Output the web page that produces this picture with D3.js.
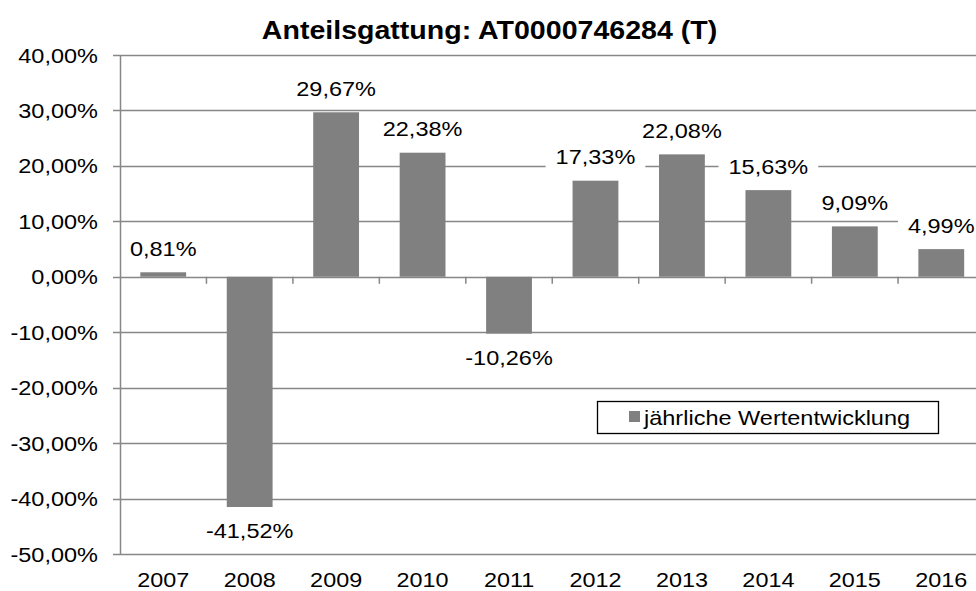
<!DOCTYPE html>
<html>
<head>
<meta charset="utf-8">
<script src="https://cdn.jsdelivr.net/npm/d3@7"></script>
<style>
  html, body { margin: 0; padding: 0; background: #fff; }
  svg { display: block; }
  text { font-family: "Liberation Sans", Arial, sans-serif; fill: #000; }
</style>
</head>
<body>
<svg id="chart" width="976" height="591"></svg>
<script>
const title = "Anteilsgattung: AT0000746284 (T)";
const years = ["2007","2008","2009","2010","2011","2012","2013","2014","2015","2016"];
const values = [0.81, -41.52, 29.67, 22.38, -10.26, 17.33, 22.08, 15.63, 9.09, 4.99];
const yTicks = [40, 30, 20, 10, 0, -10, -20, -30, -40, -50];
const seriesName = "jährliche Wertentwicklung";

const fmt = v => v.toFixed(2).replace(".", ",") + "%";
const W = 976, H = 591;
const SX = 1.12;      // horizontal text stretch seen in the reference
const FS = 21;
const gridColor = "#878787";
const barColor = "#808080";

const svg = d3.select("#chart");

const x = d3.scaleBand().domain(years).range([120, 984.5]).paddingInner(0.47).paddingOuter(0.235);
const y = d3.scaleLinear().domain([-50, 40]).range([554, 55]);

function addText(g, tx, ty, str, anchor, size, weight, sx) {
  const t = g.append("g").attr("transform", `translate(${tx},${ty}) scale(${sx || SX},1)`)
    .append("text")
    .attr("text-anchor", anchor)
    .attr("font-size", size)
    .attr("font-weight", weight || "normal")
    .text(str);
  return t;
}

// gridlines
svg.append("g").selectAll("line").data(yTicks).join("line")
  .attr("x1", 120).attr("x2", W)
  .attr("y1", d => Math.round(y(d)) + 0.5).attr("y2", d => Math.round(y(d)) + 0.5)
  .attr("stroke", gridColor).attr("stroke-width", 1.5);

// y tick marks
svg.append("g").selectAll("line").data(yTicks).join("line")
  .attr("x1", 113).attr("x2", 120)
  .attr("y1", d => Math.round(y(d)) + 0.5).attr("y2", d => Math.round(y(d)) + 0.5)
  .attr("stroke", gridColor).attr("stroke-width", 1.5);

// category ticks on zero line
const step = x.step();
svg.append("g").selectAll("line").data(d3.range(1, years.length + 1)).join("line")
  .attr("x1", i => 120 + i * step).attr("x2", i => 120 + i * step)
  .attr("y1", y(0)).attr("y2", y(0) + 7)
  .attr("stroke", gridColor).attr("stroke-width", 1.5);

// y tick labels
const yl = svg.append("g");
yTicks.forEach(t => addText(yl, 98, y(t) + 7.5, fmt(t), "end", FS));

// x labels
const xl = svg.append("g");
years.forEach(yr => addText(xl, x(yr) + x.bandwidth() / 2, 586.5, yr, "middle", 20, "normal", 1.17));

// bars
svg.append("g").selectAll("rect").data(values).join("rect")
  .attr("x", (d, i) => x(years[i]))
  .attr("width", x.bandwidth())
  .attr("y", d => y(Math.max(0, d)))
  .attr("height", d => Math.abs(y(d) - y(0)))
  .attr("fill", barColor);

// data labels
const dl = svg.append("g");
values.forEach((v, i) => {
  const cx = x(years[i]) + x.bandwidth() / 2;
  const cy = v >= 0 ? y(v) - 24 : y(v) + 24;
  const bg = dl.append("rect").attr("fill", "#fff");
  const t = addText(dl, cx, cy + 7.5, fmt(v), "middle", FS);
  const w = t.node().getComputedTextLength() * SX;
  bg.attr("x", cx - w / 2 - 10).attr("width", w + 20).attr("y", cy - 12).attr("height", 24);
});

// y axis line (on top)
svg.append("line").attr("x1", 120.5).attr("x2", 120.5).attr("y1", y(40)).attr("y2", y(-50) + 0.5)
  .attr("stroke", gridColor).attr("stroke-width", 1.5);

// legend
const lg = svg.append("g");
lg.append("rect").attr("x", 597.5).attr("y", 401.5).attr("width", 341).attr("height", 32)
  .attr("fill", "#fff").attr("stroke", "#000").attr("stroke-width", 1.3);
lg.append("rect").attr("x", 629).attr("y", 411).attr("width", 11).attr("height", 11).attr("fill", barColor);
addText(lg, 644, 425, seriesName, "start", FS);

// title
addText(svg.append("g"), 489.5, 39, title, "middle", 25.5, "bold");
</script>
</body>
</html>
